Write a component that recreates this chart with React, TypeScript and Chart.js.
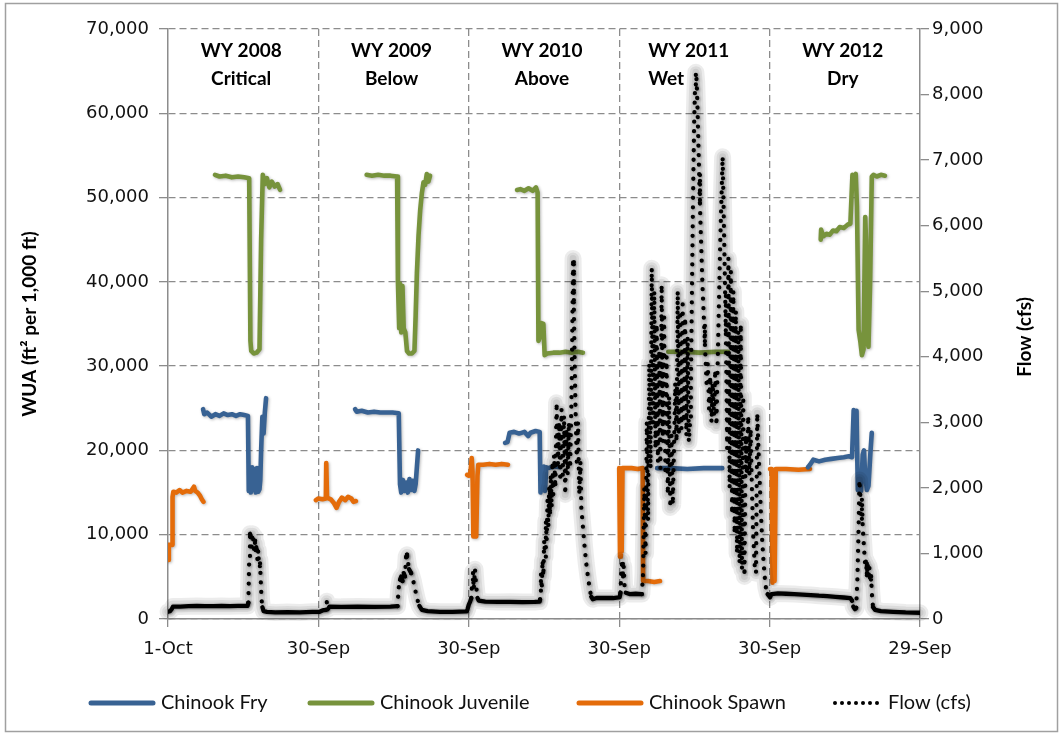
import React, { useEffect, useRef } from "react";
import { Chart, registerables } from "chart.js";

Chart.register(...registerables);

type P = [number, number];

// ---- labels ----
const xTickDays = [0, 365, 730, 1095, 1460, 1825];
const xTickLabels = ["1-Oct", "30-Sep", "30-Sep", "30-Sep", "30-Sep", "29-Sep"];
const waterYearLabels = ["WY 2008", "WY 2009", "WY 2010", "WY 2011", "WY 2012"];
const yearTypeLabels = ["Critical", "Below", "Above", "Wet", "Dry"];
const seriesNames = ["Chinook Fry", "Chinook Juvenile", "Chinook Spawn", "Flow (cfs)"];

// ---- Chinook Fry WUA (day since 1-Oct-2007, value) ----
const fry2008: P[] = [[85,24900],[88,24300],[95,24500],[105,24000],[115,24300],[125,24100],[135,24400],[145,24200],[155,24300],[165,24100],[175,24300],[185,24200],[194,24100],[196,15200],[198,17800],[201,15000],[204,18000],[207,15300],[210,17800],[213,15000],[216,17900],[219,15100],[222,15400],[224,16500],[226,20000],[229,24000],[232,22000],[235,24500],[238,26200]];
const fry2009: P[] = [[454,24900],[458,24600],[470,24700],[485,24500],[500,24600],[515,24500],[530,24500],[545,24500],[560,24400],[563,16000],[566,15000],[570,16500],[574,15200],[578,16200],[582,15000],[586,16600],[590,15300],[594,16400],[598,15200],[601,16000],[604,18000],[607,20000]];
const fry2010: P[] = [[818,20900],[824,21000],[829,22100],[840,22200],[852,22000],[865,22200],[874,21700],[880,22100],[892,22300],[902,22200],[904,15000],[906,18000],[909,15300],[912,18100],[915,15200],[918,18000],[922,17900],[930,18000],[940,18100],[951,18000]];
const fry2011: P[] = [[1187,17900],[1220,17900],[1260,17800],[1300,17900],[1345,17900]];
const fry2012: P[] = [[1553,18000],[1558,18300],[1566,18900],[1580,18700],[1595,18900],[1610,19000],[1625,19100],[1640,19200],[1652,19300],[1660,19200],[1664,24800],[1668,24000],[1671,24700],[1674,15300],[1678,16000],[1682,15200],[1686,19500],[1689,20000],[1692,17000],[1696,15300],[1700,15800],[1705,20000],[1708,22100]];

// ---- Chinook Juvenile WUA ----
const juv2008: P[] = [[114,52700],[125,52500],[140,52600],[155,52400],[170,52500],[185,52400],[197,52300],[200,33000],[202,31800],[208,31500],[215,31600],[222,32000],[226,45000],[230,52700],[235,51600],[240,52300],[246,51200],[252,51900],[259,51300],[266,51600],[272,50900]];
const juv2009: P[] = [[482,52700],[495,52600],[510,52700],[525,52600],[540,52600],[556,52500],[558,40000],[561,34500],[563,39800],[566,34000],[569,39500],[572,34500],[576,34000],[580,31800],[585,31500],[592,31500],[598,31800],[601,36000],[604,41000],[608,45500],[612,48500],[616,50500],[620,51800],[624,51500],[628,52800],[632,51900],[636,52600]];
const juv2010: P[] = [[847,50900],[855,51000],[865,50800],[875,51100],[885,50800],[893,51200],[897,50600],[899,33000],[903,33500],[906,35100],[911,35000],[914,31300],[920,31500],[935,31600],[950,31600],[965,31700],[980,31600],[995,31700],[1007,31600]];
const juv2011: P[] = [[1214,31700],[1250,31700],[1290,31600],[1330,31700],[1359,31700]];
const juv2012: P[] = [[1584,45000],[1585,46200],[1590,45400],[1598,45700],[1606,45600],[1614,46100],[1622,46000],[1630,46500],[1640,46400],[1650,46800],[1656,46900],[1661,52700],[1665,52500],[1669,52800],[1672,49000],[1676,34300],[1680,33000],[1684,31300],[1688,32000],[1692,47700],[1694,45000],[1697,33000],[1700,32300],[1704,40000],[1708,52500],[1712,52700],[1720,52500],[1730,52700],[1740,52600]];

// ---- Chinook Spawn WUA ----
const spawn2008: P[] = [[0,7000],[2,8800],[10,8800],[11,14500],[13,15100],[20,15000],[28,15300],[35,15000],[45,15200],[55,15100],[63,15700],[66,15200],[72,15000],[78,14600],[82,14200],[86,13900]];
const spawn2009: P[] = [[359,14100],[365,14300],[375,14200],[383,14300],[384,18500],[386,14400],[395,14200],[402,13800],[409,13200],[415,13900],[422,14400],[430,14100],[437,14500],[445,14300],[450,13900],[456,14000]];
const spawn2010: P[] = [[726,17100],[730,17000],[734,17400],[737,19100],[739,17500],[741,9800],[745,10500],[748,9800],[751,17000],[753,18300],[765,18300],[780,18400],[795,18300],[810,18400],[825,18300]];
const spawn2011: P[] = [[1095,17900],[1097,7400],[1099,17800],[1101,8000],[1103,17900],[1110,17900],[1125,17900],[1140,17800],[1152,17900],[1153,4500],[1165,4500],[1180,4400],[1194,4500]];
const spawn2012: P[] = [[1461,17800],[1465,17800],[1467,4300],[1470,10000],[1472,4500],[1475,17800],[1500,17800],[1530,17700],[1558,17800]];

// ---- Flow (cfs) ----
const flow2008: P[] = [[0,110],[5,120],[9,150],[12,190],[30,190],[50,195],[70,200],[90,195],[110,195],[130,200],[150,195],[170,200],[193,200],[195,250],[197,900],[199,1300],[201,1250],[203,1100],[205,1300],[207,1200],[209,1050],[211,1250],[213,1000],[215,1150],[217,900],[219,1050],[221,800],[223,900],[225,600],[227,300],[229,180],[232,120],[240,110],[260,100],[290,105],[320,100],[350,110],[365,110]];
const flow2009: P[] = [[368,110],[375,130],[383,140],[385,270],[388,150],[392,190],[420,185],[460,190],[500,185],[540,190],[557,195],[560,480],[563,600],[566,650],[569,580],[572,700],[575,650],[578,950],[580,980],[582,880],[585,760],[590,700],[595,590],[600,440],[605,300],[610,200],[616,140],[630,120],[660,110],[690,110],[725,115]];
const flow2010: P[] = [[727,150],[730,220],[733,260],[736,320],[738,550],[740,720],[742,450],[745,760],[748,500],[751,320],[754,280],[770,265],[800,260],[830,262],[860,258],[890,260],[902,265],[903,300],[905,700],[907,450],[909,900],[911,650],[913,1200],[915,950],[917,1500],[919,1200],[921,1800],[923,1400],[925,2000],[927,1600],[929,2200],[931,1700],[933,2400],[935,1900],[937,2500],[940,2000],[943,3300],[946,2300],[949,3000],[952,2100],[955,3200],[958,2200],[961,3100],[964,1900],[967,2900],[970,2200],[973,3000],[976,2300],[979,3300],[981,4300],[983,5500],[985,4700],[987,3900],[989,3200],[992,2400],[995,3000],[998,1900],[1001,2400],[1003,1700],[1007,1400],[1011,1100],[1015,850],[1019,650],[1023,480],[1027,340],[1031,300],[1040,320],[1060,320],[1080,320],[1094,330]];
const flow2011: P[] = [[1096,330],[1098,400],[1100,700],[1102,900],[1104,600],[1106,800],[1108,500],[1111,400],[1120,380],[1135,385],[1150,380],[1153,700],[1156,2000],[1159,1000],[1162,3000],[1165,1500],[1168,3900],[1171,2300],[1174,5350],[1177,3000],[1180,5000],[1183,2600],[1186,4500],[1189,2400],[1192,4100],[1195,2300],[1198,5100],[1201,2700],[1204,4600],[1207,2200],[1210,4000],[1213,1900],[1216,3400],[1219,1700],[1222,2800],[1225,1740],[1228,2600],[1231,3600],[1234,2700],[1237,5000],[1240,2800],[1243,4700],[1246,2900],[1249,4800],[1252,3000],[1255,4600],[1258,2800],[1261,4300],[1264,2700],[1267,3000],[1269,3600],[1271,4700],[1273,5800],[1275,6800],[1277,7600],[1279,8100],[1281,8340],[1283,8200],[1285,7800],[1287,7300],[1289,6800],[1291,6300],[1293,5900],[1295,5500],[1297,5100],[1299,4800],[1301,4500],[1303,4200],[1305,3900],[1307,3600],[1310,3900],[1313,3200],[1316,3700],[1319,3000],[1322,3600],[1325,3100],[1328,3800],[1331,2950],[1334,3900],[1337,4800],[1340,5700],[1343,6400],[1346,7050],[1348,6400],[1350,5700],[1352,5000],[1354,4300],[1357,2600],[1360,5500],[1363,2000],[1366,5300],[1369,1600],[1372,5000],[1375,1300],[1378,4700],[1381,1000],[1384,4400],[1387,850],[1390,4500],[1393,750],[1396,3400],[1399,650],[1402,2800],[1405,2200],[1408,3100],[1411,2200],[1414,2900],[1417,2000],[1420,1300],[1424,800],[1427,700],[1430,3140],[1433,2600],[1436,2100],[1439,1600],[1442,1200],[1445,900],[1448,650],[1451,480],[1455,380],[1460,340]];
const flow2012: P[] = [[1461,330],[1465,380],[1480,390],[1500,385],[1520,380],[1540,372],[1560,365],[1580,355],[1600,348],[1620,338],[1640,328],[1656,320],[1660,280],[1663,190],[1667,150],[1670,170],[1673,600],[1676,1400],[1678,2120],[1680,1900],[1682,1500],[1684,1850],[1686,1400],[1688,1200],[1690,1000],[1692,800],[1694,900],[1696,650],[1698,850],[1700,600],[1702,800],[1704,550],[1706,700],[1708,400],[1711,180],[1716,140],[1730,120],[1760,110],[1790,100],[1825,95]];

const COLORS = { fry: "#386293", juv: "#77933C", spawn: "#E46C0A", flow: "#000000" };
const GRID = "#8c8c8c";
const TICK_FONT = '"DejaVu Sans", Verdana, sans-serif';
const LABEL_FONT = 'Lato, "Open Sans", sans-serif';

function joinSegments(segs: P[][]) {
  const out: { x: number; y: number | null }[] = [];
  segs.forEach((s, i) => {
    if (i > 0) {
      const prev = segs[i - 1];
      out.push({ x: (prev[prev.length - 1][0] + s[0][0]) / 2, y: null });
    }
    s.forEach(([x, y]) => out.push({ x, y }));
  });
  return out;
}
function concatSegments(segs: P[][]) {
  const out: { x: number; y: number }[] = [];
  segs.forEach((s) => s.forEach(([x, y]) => out.push({ x, y })));
  return out;
}

const shadowPlugin = {
  id: "shadows",
  beforeDatasetDraw(chart: any, args: any) {
    const ctx: CanvasRenderingContext2D = chart.ctx;
    const ds = chart.data.datasets[args.index];
    if (ds.yAxisID === "y1") {
      // soft grey halo around the flow trace, following the library's own point pixels
      const meta = chart.getDatasetMeta(args.index);
      const pts = meta.data as any[];
      ctx.save();
      ctx.lineJoin = "round";
      ctx.lineCap = "round";
      [17, 12, 7].forEach((w) => {
        ctx.beginPath();
        pts.forEach((pt: any, i: number) => {
          if (i === 0) ctx.moveTo(pt.x, pt.y);
          else ctx.lineTo(pt.x, pt.y);
        });
        ctx.strokeStyle = "rgba(0,0,0,0.075)";
        ctx.lineWidth = w;
        ctx.stroke();
      });
      ctx.restore();
      ctx.save();
      ctx.shadowColor = "rgba(0,0,0,0.3)";
      ctx.shadowBlur = 3;
      ctx.shadowOffsetX = 1;
      ctx.shadowOffsetY = 1;
    } else {
      ctx.save();
      ctx.shadowColor = "rgba(0,0,0,0.28)";
      ctx.shadowBlur = 3;
      ctx.shadowOffsetX = 1;
      ctx.shadowOffsetY = 1;
    }
  },
  afterDatasetDraw(chart: any) {
    chart.ctx.restore();
  },
};

const decorPlugin = {
  id: "decor",
  afterDraw(chart: any) {
    const ctx: CanvasRenderingContext2D = chart.ctx;
    const xs = chart.scales.x;
    const area = chart.chartArea;
    ctx.save();
    // outer border
    ctx.strokeStyle = "#a0a0a0";
    ctx.lineWidth = 1.5;
    ctx.strokeRect(5.5, 3.5, 1052, 728);

    // water year headers
    ctx.fillStyle = "#000";
    ctx.font = `bold 19px ${LABEL_FONT}`;
    ctx.textBaseline = "middle";
    waterYearLabels.forEach((lab, i) => {
      const start = xTickDays[i];
      if (i === 3) {
        ctx.textAlign = "left";
        const x0 = xs.getPixelForValue(start) + 29;
        ctx.fillText(lab, x0, area.top + 22);
        ctx.fillText(yearTypeLabels[i], x0, area.top + 50);
      } else {
        ctx.textAlign = "center";
        const xm = xs.getPixelForValue((start + xTickDays[i + 1]) / 2) - 2;
        ctx.fillText(lab, xm, area.top + 22);
        ctx.fillText(yearTypeLabels[i], xm, area.top + 50);
      }
    });

    // axis titles
    ctx.font = `bold 19px ${LABEL_FONT}`;
    ctx.textAlign = "center";
    ctx.save();
    ctx.translate(30, (area.top + area.bottom) / 2);
    ctx.rotate(-Math.PI / 2);
    ctx.fillText("WUA (ft² per 1,000 ft)", 0, 0);
    ctx.restore();
    ctx.save();
    ctx.translate(1025, (area.top + area.bottom) / 2 + 13);
    ctx.rotate(-Math.PI / 2);
    ctx.fillText("Flow (cfs)", 0, 0);
    ctx.restore();

    // legend
    const legendY = 703;
    const items = [
      { x: 89, color: COLORS.fry, dotted: false },
      { x: 308, color: COLORS.juv, dotted: false },
      { x: 577, color: COLORS.spawn, dotted: false },
      { x: 833, color: COLORS.flow, dotted: true },
    ];
    ctx.font = `20px ${LABEL_FONT}`;
    ctx.textAlign = "left";
    ctx.textBaseline = "middle";
    items.forEach((it, i) => {
      if (it.dotted) {
        ctx.fillStyle = "#000";
        for (let k = 0; k < 7; k++) {
          ctx.beginPath();
          ctx.arc(it.x + 2 + k * 7, legendY, 2, 0, Math.PI * 2);
          ctx.fill();
        }
        ctx.fillStyle = "#111";
        ctx.fillText(seriesNames[i], it.x + 55, legendY);
      } else {
        ctx.strokeStyle = it.color;
        ctx.lineWidth = 5;
        ctx.lineCap = "round";
        ctx.beginPath();
        ctx.moveTo(it.x + 2, legendY);
        ctx.lineTo(it.x + 64, legendY);
        ctx.stroke();
        ctx.fillStyle = "#111";
        ctx.fillText(seriesNames[i], it.x + 72, legendY);
      }
    });
    ctx.restore();
  },
};

export default function App() {
  const canvasRef = useRef<HTMLCanvasElement | null>(null);

  useEffect(() => {
    document.body.style.margin = "0";
    const canvas = canvasRef.current!;
    const lineBase = {
      pointRadius: 0,
      borderWidth: 4.6,
      tension: 0,
      spanGaps: false,
      borderCapStyle: "round" as const,
      borderJoinStyle: "round" as const,
    };
    const chart = new Chart(canvas, {
      type: "line",
      data: {
        datasets: [
          {
            ...lineBase,
            label: seriesNames[3],
            data: concatSegments([flow2008, flow2009, flow2010, flow2011, flow2012]),
            yAxisID: "y1",
            borderColor: COLORS.flow,
            borderWidth: 4.3,
            order: 0,
            segment: {
              borderDash: (c: any) =>
                Math.abs(c.p1.y - c.p0.y) > 5 ? [0.01, 9.5] : [],
            },
          } as any,
          {
            ...lineBase,
            label: seriesNames[0],
            data: joinSegments([fry2008, fry2009, fry2010, fry2011, fry2012]),
            yAxisID: "y",
            borderColor: COLORS.fry,
            order: 1,
          },
          {
            ...lineBase,
            label: seriesNames[1],
            data: joinSegments([juv2008, juv2009, juv2010, juv2011, juv2012]),
            yAxisID: "y",
            borderColor: COLORS.juv,
            order: 2,
          },
          {
            ...lineBase,
            label: seriesNames[2],
            data: joinSegments([spawn2008, spawn2009, spawn2010, spawn2011, spawn2012]),
            yAxisID: "y",
            borderColor: COLORS.spawn,
            order: 3,
          },
        ],
      },
      options: {
        responsive: false,
        maintainAspectRatio: false,
        animation: false,
        events: [],
        layout: { padding: { top: 29, left: 0, right: 0, bottom: 0 } },
        plugins: { legend: { display: false }, tooltip: { enabled: false } },
        scales: {
          x: {
            type: "linear",
            min: 0,
            max: 1825,
            afterBuildTicks: (s: any) => {
              s.ticks = xTickDays.map((v) => ({ value: v }));
            },
            afterFit: (s: any) => {
              s.height = 119;
            },
            ticks: {
              autoSkip: false,
              maxRotation: 0,
              padding: 12,
              color: "#111",
              font: { family: TICK_FONT, size: 18 },
              callback: (_v: any, i: number) => xTickLabels[i],
            },
            grid: {
              color: (c: any) =>
                c.index === 0 || c.index === xTickDays.length - 1 ? "rgba(0,0,0,0)" : GRID,
              lineWidth: 1.3,
              tickLength: 8,
              tickColor: GRID,
              tickWidth: 1.3,
              tickBorderDash: [],
            } as any,
            border: { color: GRID, width: 1.5, dash: [7, 4] },
          },
          y: {
            type: "linear",
            position: "left",
            min: 0,
            max: 70000,
            afterFit: (s: any) => {
              s.width = 168;
            },
            ticks: {
              stepSize: 10000,
              padding: 10,
              color: "#111",
              font: { family: TICK_FONT, size: 18 },
              callback: (v: any) => Number(v).toLocaleString("en-US"),
            },
            grid: {
              color: GRID,
              lineWidth: 1.3,
              tickLength: 9,
              tickColor: GRID,
              tickWidth: 1.3,
              tickBorderDash: [],
            } as any,
            border: { color: GRID, width: 1.5, dash: [7, 4] },
          },
          y1: {
            type: "linear",
            position: "right",
            min: 0,
            max: 9000,
            afterFit: (s: any) => {
              s.width = 143;
            },
            ticks: {
              stepSize: 1000,
              padding: 3,
              color: "#111",
              font: { family: TICK_FONT, size: 18 },
              callback: (v: any) => Number(v).toLocaleString("en-US"),
            },
            grid: {
              drawOnChartArea: false,
              color: GRID,
              lineWidth: 1.3,
              tickLength: 9,
              tickColor: GRID,
              tickWidth: 1.3,
              tickBorderDash: [],
            } as any,
            border: { color: GRID, width: 1.5 },
          },
        },
      },
      plugins: [shadowPlugin, decorPlugin],
    });
    return () => chart.destroy();
  }, []);

  return (
    <canvas
      ref={canvasRef}
      width={1063}
      height={738}
      style={{ display: "block", width: "1063px", height: "738px" }}
    />
  );
}
